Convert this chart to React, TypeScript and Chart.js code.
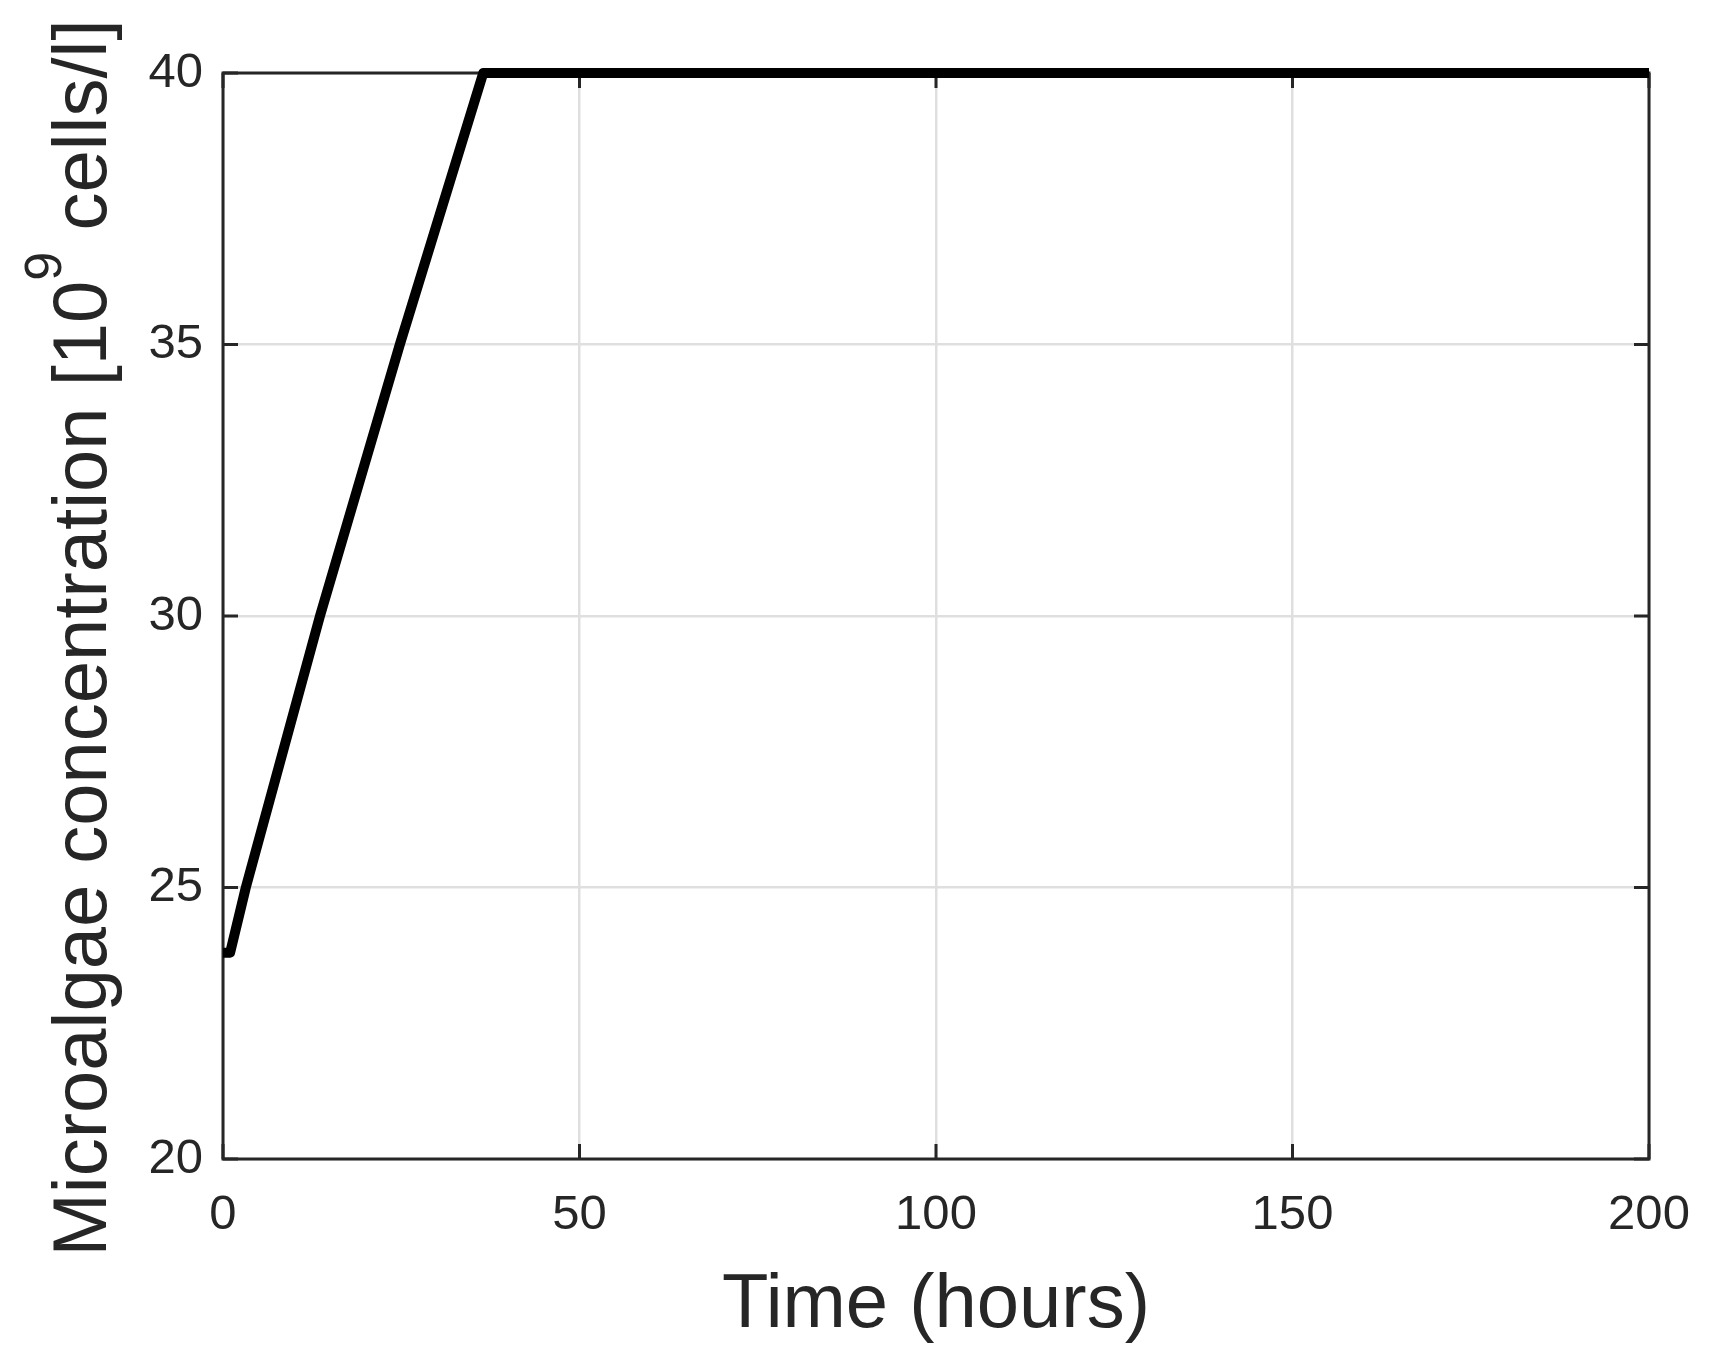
import React, { useEffect, useRef } from 'react';
import { Chart, registerables } from 'chart.js';

Chart.register(...registerables);

const timeHours = [0, 1, 3.2, 13.6, 24.8, 36.5, 200];
const concentration = [23.8, 23.8, 25, 30, 35, 40, 40];
const xTickValues = [0, 50, 100, 150, 200];
const yTickValues = [20, 25, 30, 35, 40];
const xTitle = 'Time (hours)';
const yTitleMain = 'Microalgae concentration [10';
const yTitleSup = '9';
const yTitleEnd = ' cells/l]';

const FONT = '"Liberation Sans", Arial, Helvetica, sans-serif';
const AXIS_COLOR = '#262626';

const boxPlugin = {
  id: 'matlabBox',
  beforeDatasetsDraw(chart: any) {
    const { ctx, chartArea } = chart;
    const { left, right, top, bottom } = chartArea;
    const xs = chart.scales.x;
    const ys = chart.scales.y;
    const tl = 15;
    ctx.save();
    ctx.strokeStyle = AXIS_COLOR;
    ctx.lineWidth = 3;
    ctx.beginPath();
    for (const v of yTickValues) {
      const py = ys.getPixelForValue(v);
      ctx.moveTo(left, py);
      ctx.lineTo(left + tl, py);
      ctx.moveTo(right, py);
      ctx.lineTo(right - tl, py);
    }
    for (const v of xTickValues) {
      const px = xs.getPixelForValue(v);
      ctx.moveTo(px, bottom);
      ctx.lineTo(px, bottom - tl);
      ctx.moveTo(px, top);
      ctx.lineTo(px, top + tl);
    }
    ctx.stroke();
    ctx.strokeRect(left, top, right - left, bottom - top);
    ctx.restore();
  },
};

const yTitlePlugin = {
  id: 'yTitleSup',
  afterDraw(chart: any) {
    const { ctx } = chart;
    const mainFont = `76px ${FONT}`;
    const supFont = `52px ${FONT}`;
    ctx.save();
    ctx.fillStyle = AXIS_COLOR;
    ctx.textBaseline = 'alphabetic';
    ctx.textAlign = 'left';
    ctx.font = mainFont;
    const w1 = ctx.measureText(yTitleMain).width;
    const w3 = ctx.measureText(yTitleEnd).width;
    ctx.font = supFont;
    const w2 = ctx.measureText(yTitleSup).width;
    const total = w1 + w2 + w3;
    ctx.translate(106, 638);
    ctx.rotate(-Math.PI / 2);
    let x = -total / 2;
    ctx.font = mainFont;
    ctx.fillText(yTitleMain, x, 0);
    x += w1;
    ctx.font = supFont;
    ctx.fillText(yTitleSup, x, -45);
    x += w2;
    ctx.font = mainFont;
    ctx.fillText(yTitleEnd, x, 0);
    ctx.restore();
  },
};

export default function App() {
  const canvasRef = useRef<HTMLCanvasElement | null>(null);

  useEffect(() => {
    if (!canvasRef.current) return;
    const chart = new Chart(canvasRef.current, {
      type: 'line',
      data: {
        datasets: [
          {
            data: timeHours.map((t, i) => ({ x: t, y: concentration[i] })),
            borderColor: '#000000',
            borderWidth: 10,
            pointRadius: 0,
            tension: 0,
            fill: false,
            clip: false,
            borderJoinStyle: 'round',
            borderCapStyle: 'butt',
          },
        ],
      },
      options: {
        responsive: false,
        animation: false,
        devicePixelRatio: 1,
        layout: { padding: { top: 73, right: 61, left: 0, bottom: 0 } },
        plugins: {
          legend: { display: false },
          tooltip: { enabled: false },
        },
        scales: {
          x: {
            type: 'linear',
            min: 0,
            max: 200,
            afterBuildTicks: (scale: any) => {
              scale.ticks = xTickValues.map((v) => ({ value: v }));
            },
            ticks: {
              font: { size: 49, family: FONT },
              color: AXIS_COLOR,
              padding: 27,
              maxRotation: 0,
            },
            grid: { color: '#dfdfdf', lineWidth: 2.5, drawTicks: false },
            border: { display: false },
            title: {
              display: true,
              text: xTitle,
              color: AXIS_COLOR,
              font: { size: 76, family: FONT },
              padding: { top: 0, bottom: 20 },
            },
            afterFit: (scale: any) => {
              scale.height = 213;
              scale.paddingLeft = 0;
              scale.paddingRight = 0;
            },
          },
          y: {
            type: 'linear',
            min: 20,
            max: 40,
            afterBuildTicks: (scale: any) => {
              scale.ticks = yTickValues.map((v) => ({ value: v }));
            },
            ticks: {
              font: { size: 49, family: FONT },
              color: AXIS_COLOR,
              padding: 20,
            },
            grid: { color: '#dfdfdf', lineWidth: 2.5, drawTicks: false },
            border: { display: false },
            afterFit: (scale: any) => {
              scale.width = 223;
              scale.paddingTop = 0;
              scale.paddingBottom = 0;
            },
          },
        },
      },
      plugins: [boxPlugin, yTitlePlugin],
    } as any);
    return () => chart.destroy();
  }, []);

  return (
    <div style={{ position: 'absolute', left: 0, top: 0, width: 1710, height: 1372, background: '#ffffff' }}>
      <canvas ref={canvasRef} width={1710} height={1372} style={{ width: 1710, height: 1372, display: 'block' }} />
    </div>
  );
}
